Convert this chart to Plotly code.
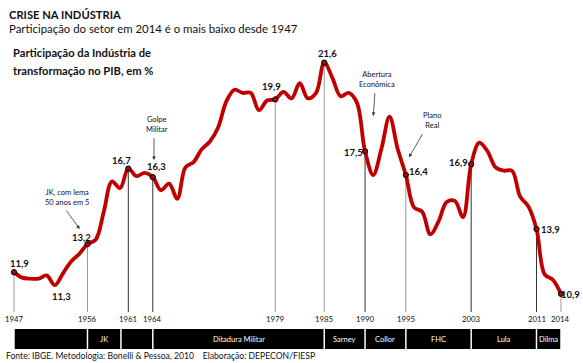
import plotly.graph_objects as go

# ---------------- data ----------------
years = list(range(1947, 2015))
share = [11.9, 11.65, 11.6, 11.6, 11.75, 11.3, 11.85, 12.4, 12.75, 13.2,
         13.4, 14.7, 16.1, 15.8, 16.7, 16.35, 16.5, 16.3, 15.7, 16.0,
         15.3, 16.75, 17.0, 17.6, 17.95, 18.6, 19.8, 20.35, 20.2, 20.2,
         19.4, 19.85, 19.9, 20.25, 19.95, 20.65, 19.95, 20.2, 21.6, 20.9,
         20.05, 20.2, 19.75, 17.5, 16.4, 17.6, 19.1, 17.6, 16.4, 14.9,
         14.7, 13.65, 14.25, 15.15, 15.2, 14.45, 16.9, 17.9, 17.5, 16.75,
         16.6, 16.6, 15.4, 14.95, 13.9, 11.8, 11.55, 10.9]

mark_years = [1947, 1956, 1961, 1964, 1979, 1985, 1990, 1995, 2003, 2011, 2014]
mark_labels = ["11,9", "13,2", "16,7", "16,3", "19,9", "21,6", "17,5", "16,4", "16,9", "13,9", "10,9"]
min_year = 1952
min_label = "11,3"

period_bounds = [1947, 1956, 1960.1, 1964, 1985, 1990, 1995, 2003, 2011, 2014]
period_names = ["", "JK", "", "Ditadura Militar", "Sarney", "Collor", "FHC", "Lula", "Dilma"]

events = [
    ("JK, com lema<br>50 anos em 5", 1955.05),
    ("Golpe<br>Militar", 1964.15),
    ("Abertura<br>Econômica", 1991.0),
    ("Plano<br>Real", 1995.4),
]

# ---------------- geometry helpers ----------------
W, H = 583, 363
X0PX, XSCALE = 14.0, 8.164   # px of 1947, px per year
Y0PX, YSCALE = 62.7, 21.6    # px of 21.6, px per unit


def px2x(px):
    return 1947 + (px - X0PX) / XSCALE


def py2y(py):
    return 21.6 - (py - Y0PX) / YSCALE


val = dict(zip(years, share))
RED = "#C00000"
FONT = "Lato"

fig = go.Figure()

# vertical reference lines
gray_years = {1947, 1956, 1979, 1985, 1995, 2014}
for yr in mark_years:
    fig.add_shape(type="line", x0=yr, x1=yr, y0=py2y(312), y1=val[yr],
                  line=dict(color="#9a9a9a" if yr in gray_years else "#333333", width=1),
                  layer="below")

# main curve
fig.add_trace(go.Scatter(x=years, y=share, mode="lines",
                         line=dict(color=RED, width=3.8, shape="spline", smoothing=1.0),
                         hoverinfo="skip", showlegend=False))

# markers
fig.add_trace(go.Scatter(x=mark_years, y=[val[y] for y in mark_years], mode="markers",
                         marker=dict(size=5, color=RED, line=dict(color="#111111", width=1.2)),
                         hoverinfo="skip", showlegend=False))

# value labels (pixel offsets from the point)
offsets = {1947: (5, 8.7), 1956: (-5.5, 7), 1961: (-7, 8.5), 1964: (4, 11),
           1979: (-4, 12.7), 1985: (3, 9.4), 1990: (-12, -1), 1995: (12.5, 4),
           2003: (-12.7, 1.5), 2011: (14, 0), 2014: (10, -1)}
for yr, lab in zip(mark_years, mark_labels):
    dx, dy = offsets[yr]
    fig.add_annotation(x=yr, y=val[yr], text=f"<b>{lab}</b>", showarrow=False,
                       xshift=dx, yshift=dy, font=dict(family=FONT, size=9.5, color="#111111"))
fig.add_annotation(x=min_year, y=val[min_year], text=f"<b>{min_label}</b>", showarrow=False,
                   xshift=7, yshift=-11, font=dict(family=FONT, size=9.5, color="#111111"))

# year tick labels
for yr in mark_years:
    fig.add_annotation(x=yr, y=py2y(319), text=str(yr), showarrow=False,
                       font=dict(family=FONT, size=7.8, color="#111111"))

# period band
for i, name in enumerate(period_names):
    a, b = period_bounds[i], period_bounds[i + 1]
    fig.add_shape(type="rect", x0=a + 0.09, x1=b - 0.09, y0=py2y(349), y1=py2y(329),
                  fillcolor="black", line=dict(width=0))
    if name:
        fig.add_annotation(x=(a + b) / 2, y=py2y(339), text=name, showarrow=False,
                           font=dict(family=FONT, size=7.5, color="white"))

# event annotations: text + arrows
ev_text_pos = [(66.7, 197), (156.7, 124.3), (376.7, 79), (431.7, 120)]
ev_arrows = [((79.7, 229), (65.3, 209)), ((154, 160), (154, 136.7)),
             ((373.3, 116), (375, 91.7)), ((409, 157.3), (423.3, 132.7))]
for (txt, _), (tx, ty), (head, tail) in zip(events, ev_text_pos, ev_arrows):
    fig.add_annotation(x=px2x(tx), y=py2y(ty), text=txt, showarrow=False,
                       font=dict(family=FONT, size=7.5, color="#111111"), align="center")
    fig.add_annotation(x=px2x(head[0]), y=py2y(head[1]), text="", showarrow=True,
                       ax=tail[0] - head[0], ay=tail[1] - head[1],
                       arrowhead=2, arrowsize=0.9, arrowwidth=0.8, arrowcolor="#333333")

# titles
def paper_text(text, px, py, size, bold=False, color="#111111", anchor="left"):
    fig.add_annotation(x=px / W, y=1 - py / H, xref="paper", yref="paper",
                       text=f"<b>{text}</b>" if bold else text, showarrow=False,
                       xanchor=anchor, yanchor="middle",
                       font=dict(family=FONT, size=size, color=color), align="left")

paper_text("CRISE NA INDÚSTRIA", 7, 15, 11.2, bold=True)
paper_text("Participação do setor em 2014 é o mais baixo desde 1947", 7, 28.5, 11.4)
paper_text("Participação da Indústria de", 11, 52, 11.2, bold=True)
paper_text("transformação no PIB, em %", 11, 71, 11.2, bold=True)
paper_text("Fonte: IBGE. Metodologia: Bonelli &amp; Pessoa, 2010    Elaboração: DEPECON/FIESP",
           4, 356, 8.6)

fig.update_layout(
    width=W, height=H, margin=dict(l=0, r=0, t=0, b=0),
    paper_bgcolor="white", plot_bgcolor="white",
    xaxis=dict(range=[px2x(0), px2x(W)], visible=False, fixedrange=True),
    yaxis=dict(range=[py2y(H), py2y(0)], visible=False, fixedrange=True),
    showlegend=False,
)

fig.write_html("out.html", config={"displayModeBar": False},
               post_script="document.body.style.margin='0';document.body.style.overflow='hidden';")
